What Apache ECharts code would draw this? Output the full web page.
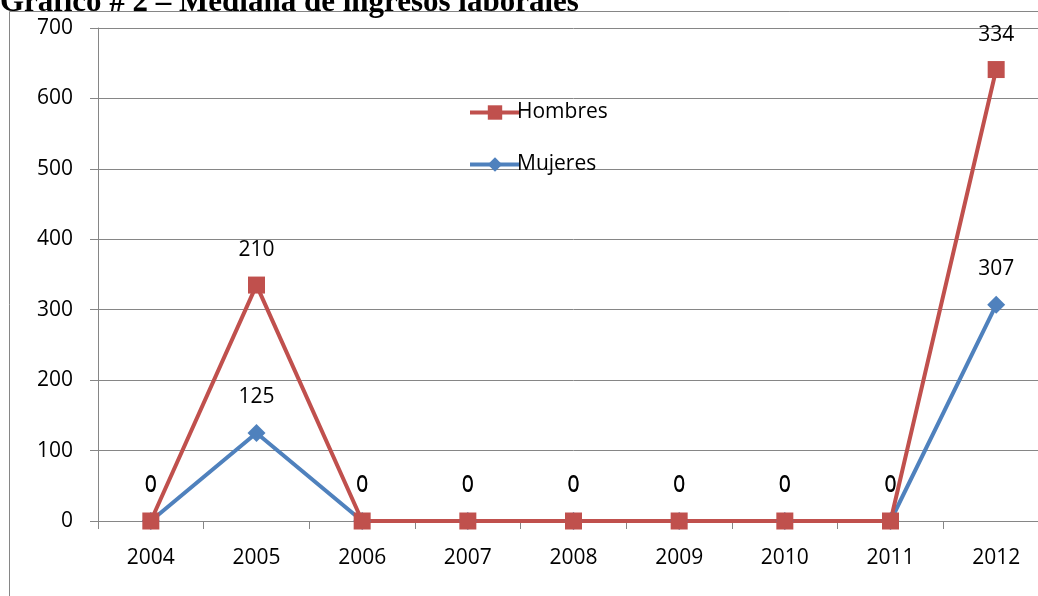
<!DOCTYPE html>
<html><head><meta charset="utf-8">
<script src="https://cdn.jsdelivr.net/npm/echarts@6/dist/echarts.min.js"></script>
<style>html,body{margin:0;padding:0;background:#fff;overflow:hidden;width:1038px;height:596px;}#c{width:1050px;height:596px;}</style>
</head><body><div id="c"></div>
<script>
var years = ['2004','2005','2006','2007','2008','2009','2010','2011','2012'];
var mujeres = [0,125,0,0,0,0,0,0,307];
var hombres = [0,210,0,0,0,0,0,0,334];
var yTicks = [0,100,200,300,400,500,600,700];

var chart = echarts.init(document.getElementById('c'));
var font = '"Open Sans", "Noto Sans", sans-serif';
var gray = '#868686';
chart.setOption({
  animation:false,
  backgroundColor:'#fff',
  graphic:[
    {type:'line', shape:{x1:9.5,y1:11.5,x2:1050,y2:11.5}, style:{stroke:gray,lineWidth:1}},
    {type:'line', shape:{x1:9.5,y1:11.5,x2:9.5,y2:600}, style:{stroke:gray,lineWidth:1}},
    {type:'text', left:0, top:-13, style:{text:'Gráfico # 2 – Mediana de ingresos laborales', font:'bold 31px "Liberation Serif", "Times New Roman", serif', fill:'#000'}}
  ],
  legend:{
    left:463, top:97, orient:'vertical', itemWidth:50, itemHeight:18, itemGap:31,
    data:[
      {name:'Hombres', lineStyle:{width:4}},
      {name:'Mujeres', lineStyle:{width:4}}
    ],
    textStyle:{fontFamily:font, fontSize:21, color:'#000', padding:[0,0,0,-8]}
  },
  grid:{left:98, top:28, width:951, height:493, containLabel:false},
  xAxis:{
    type:'category', data:years, boundaryGap:true,
    axisLine:{lineStyle:{color:gray,width:1}},
    axisTick:{show:true, length:8, lineStyle:{color:gray}},
    axisLabel:{fontFamily:font, fontSize:21, color:'#000', margin:27}
  },
  yAxis:{
    type:'value', min:0, max:700, interval:100,
    axisLine:{show:true, lineStyle:{color:gray,width:1}},
    axisTick:{show:true, length:8, lineStyle:{color:gray}},
    splitLine:{lineStyle:{color:gray,width:1}},
    axisLabel:{fontFamily:font, fontSize:21, color:'#000', margin:25,
      formatter:function(v){return yTicks.indexOf(v)>=0?String(v):'';}}
  },
  series:[
    {name:'Mujeres', type:'line', stack:'t', data:mujeres, symbol:'diamond', symbolSize:18,
     lineStyle:{color:'#4F81BD', width:4}, itemStyle:{color:'#4F81BD'},
     label:{show:true, position:'top', distance:16, fontFamily:font, fontSize:21, color:'#000'}},
    {name:'Hombres', type:'line', stack:'t', data:hombres, symbol:'rect', symbolSize:17,
     lineStyle:{color:'#C0504D', width:4}, itemStyle:{color:'#C0504D'},
     label:{show:true, position:'top', distance:16, fontFamily:font, fontSize:21, color:'#000'}}
  ]
});
</script></body></html>
